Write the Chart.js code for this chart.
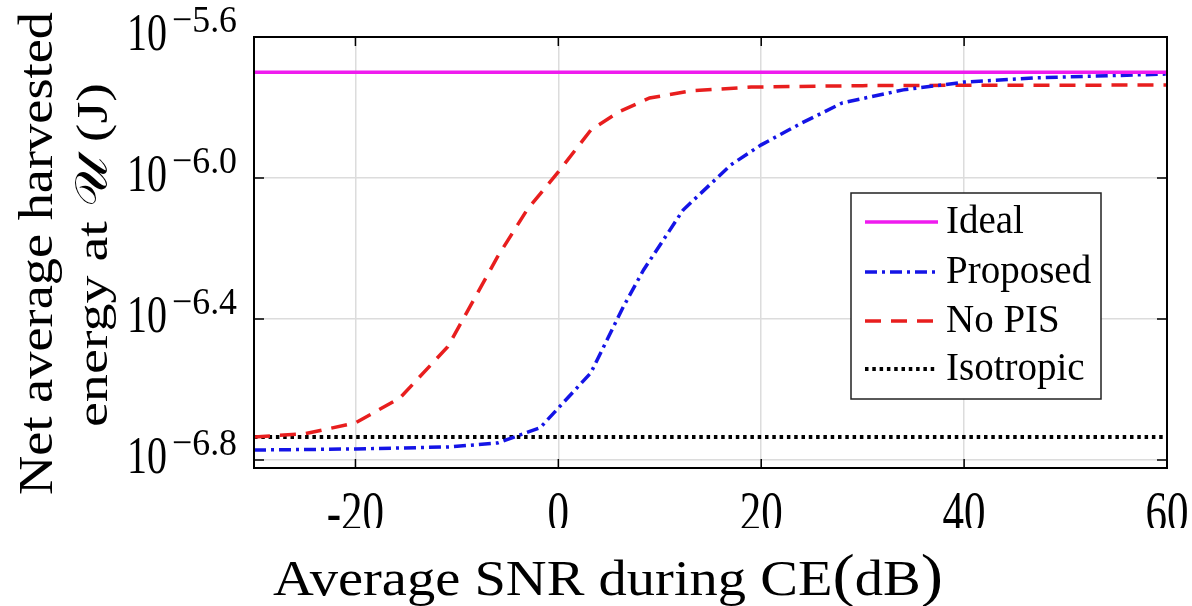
<!DOCTYPE html>
<html>
<head>
<meta charset="utf-8">
<script src="https://cdn.jsdelivr.net/npm/chart.js@4.4.0/dist/chart.umd.min.js"></script>
<style>
  html, body { margin: 0; padding: 0; background: #fff; }
  #wrap { width: 1192px; height: 606px; }
</style>
</head>
<body>
<div id="wrap"><canvas id="energyChart" width="1192" height="606"></canvas></div>
<script>
// values; y values are log10 of energy (J)
const snrIdeal = [-30, 60];
const idealExp = [-5.70, -5.70];

const snrProposed = [-30, -20, -10.6, -6, -1.8, 3.2, 6.4, 8.4, 12.3, 17, 20, 24, 28, 34, 40, 47, 53, 60];
const proposedExp = [-6.772, -6.769, -6.763, -6.752, -6.709, -6.553, -6.366, -6.261, -6.091, -5.963, -5.906, -5.844, -5.787, -5.750, -5.728, -5.716, -5.711, -5.705];

const snrNoPis = [-30, -25, -20, -15.6, -10.9, -6, -3.1, 0, 3.2, 6, 9, 13, 19, 30, 40, 50, 60];
const noPisExp = [-6.735, -6.726, -6.695, -6.624, -6.479, -6.224, -6.091, -5.983, -5.864, -5.812, -5.773, -5.753, -5.742, -5.738, -5.737, -5.737, -5.736];

const snrIsotropic = [-30, 60];
const isotropicExp = [-6.735, -6.735];

const xTickValues = [-20, 0, 20, 40, 60];
const yTickExps = [-5.6, -6.0, -6.4, -6.8];

const SERIF = '"Liberation Serif", "Times New Roman", serif';

function toPoints(xs, exps) {
    return xs.map((x, i) => ({ x: x, y: Math.pow(10, exps[i]) }));
}

// text drawn with a stretch so it matches the (squashed) figure
function drawStretched(ctx, text, px, x, y, sx, sy, align) {
    ctx.save();
    ctx.translate(x, y);
    ctx.scale(sx, sy);
    ctx.font = px + 'px ' + SERIF;
    ctx.textAlign = align || 'left';
    ctx.textBaseline = 'alphabetic';
    ctx.fillStyle = '#000';
    ctx.fillText(text, 0, 0);
    ctx.restore();
}

function textWidth(ctx, text, px) {
    ctx.save();
    ctx.font = px + 'px ' + SERIF;
    const w = ctx.measureText(text).width;
    ctx.restore();
    return w;
}

const paperPlugin = {
    id: 'paper',
    afterDatasetsDraw(chart) {
        const ctx = chart.ctx;
        const a = chart.chartArea;
        const xs = chart.scales.x, ys = chart.scales.y;

        // inward tick marks, matlab style
        ctx.save();
        ctx.strokeStyle = '#000';
        ctx.lineWidth = 1.5;
        ctx.beginPath();
        xTickValues.forEach(v => {
            const px = xs.getPixelForValue(v);
            ctx.moveTo(px, a.bottom); ctx.lineTo(px, a.bottom - 9);
            ctx.moveTo(px, a.top); ctx.lineTo(px, a.top + 9);
        });
        yTickExps.forEach(e => {
            const py = ys.getPixelForValue(Math.pow(10, e));
            ctx.moveTo(a.left, py); ctx.lineTo(a.left + 10, py);
            ctx.moveTo(a.right, py); ctx.lineTo(a.right - 10, py);
        });
        ctx.stroke();

        // axes box
        ctx.lineWidth = 2;
        ctx.strokeRect(a.left, a.top, a.right - a.left, a.bottom - a.top);
        ctx.restore();

        // legend inside the plot
        const box = { x: 851, y: 193, w: 250, h: 206 };
        ctx.save();
        ctx.fillStyle = '#fff';
        ctx.fillRect(box.x, box.y, box.w, box.h);
        ctx.strokeStyle = '#222';
        ctx.lineWidth = 1.5;
        ctx.strokeRect(box.x, box.y, box.w, box.h);
        const baselines = [233, 283, 332, 380];
        chart.data.datasets.forEach((ds, i) => {
            const ly = baselines[i] - 11;
            ctx.save();
            ctx.strokeStyle = ds.borderColor;
            ctx.lineWidth = ds.borderWidth;
            ctx.setLineDash(ds.borderDash || []);
            ctx.beginPath();
            ctx.moveTo(865, ly);
            ctx.lineTo(938, ly);
            ctx.stroke();
            ctx.restore();
            drawStretched(ctx, ds.label, 39, 946, baselines[i], 1, 1, 'left');
        });
        ctx.restore();
    },
    afterDraw(chart) {
        const ctx = chart.ctx;
        const xs = chart.scales.x, ys = chart.scales.y;

        // y tick labels 10^{e}
        yTickExps.forEach(e => {
            const py = ys.getPixelForValue(Math.pow(10, e));
            const w10 = textWidth(ctx, '10', 40);
            drawStretched(ctx, '10', 40, 127, py + 13, 40 / w10, 1.33, 'left');
            const expText = '\u2212' + e.toFixed(1).replace('-', '');
            const wE = textWidth(ctx, expText, 28);
            drawStretched(ctx, expText, 28, 172, py - 5, 65 / wE, 1.35, 'left');
        });

        // x tick labels (bottoms are cut in the figure)
        ctx.save();
        ctx.beginPath();
        ctx.rect(0, 470, chart.width, 58);
        ctx.clip();
        xTickValues.forEach(v => {
            drawStretched(ctx, String(v), 43, xs.getPixelForValue(v), 531, 1, 1.34, 'center');
        });
        ctx.restore();

        // x title with tall parentheses
        const segs = [
            { t: 'Average SNR during CE', px: 44 },
            { t: '(', px: 52 },
            { t: 'dB', px: 44 },
            { t: ')', px: 52 }
        ];
        let total = 0;
        segs.forEach(s => { s.w = textWidth(ctx, s.t, s.px); total += s.w; });
        const sxT = 670 / total;
        let cx = 273;
        segs.forEach(s => {
            drawStretched(ctx, s.t, s.px, cx, 595, sxT, 1.13, 'left');
            cx += s.w * sxT;
        });

        // y title, two rotated lines
        const yLines = [
            { t: 'Net average harvested', base: 52, mid: 253.5, len: 483, sy: 1.10 },
            { t: 'energy at \uD835\uDCB0 (J)', base: 107, mid: 255, len: 344, sy: 1.03 }
        ];
        yLines.forEach(l => {
            const w = textWidth(ctx, l.t, 44);
            ctx.save();
            ctx.translate(l.base, l.mid);
            ctx.rotate(-Math.PI / 2);
            drawStretched(ctx, l.t, 44, 0, 0, l.len / w, l.sy, 'center');
            ctx.restore();
        });
    }
};

const energyCtx = document.getElementById('energyChart');
new Chart(energyCtx, {
    type: 'line',
    data: {
        datasets: [
            {
                label: 'Ideal',
                data: toPoints(snrIdeal, idealExp),
                borderColor: '#ef1bef',
                borderWidth: 3.5
            },
            {
                label: 'Proposed',
                data: toPoints(snrProposed, proposedExp),
                borderColor: '#1414e6',
                borderWidth: 3.5,
                borderDash: [12, 5, 3, 5]
            },
            {
                label: 'No PIS',
                data: toPoints(snrNoPis, noPisExp),
                borderColor: '#e81e1e',
                borderWidth: 3.5,
                borderDash: [16, 10]
            },
            {
                label: 'Isotropic',
                data: toPoints(snrIsotropic, isotropicExp),
                borderColor: '#000',
                borderWidth: 4,
                borderDash: [3.5, 3.8]
            }
        ]
    },
    options: {
        responsive: false,
        animation: false,
        layout: { padding: { left: 0, top: 37, right: 25, bottom: 0 } },
        elements: {
            point: { radius: 0 },
            line: { tension: 0, borderCapStyle: 'butt', fill: false }
        },
        scales: {
            x: {
                type: 'linear',
                min: -30,
                max: 60,
                afterBuildTicks: scale => { scale.ticks = xTickValues.map(v => ({ value: v })); },
                afterFit: scale => { scale.height = 138; },
                ticks: { display: false },
                border: { display: false },
                grid: { color: '#dcdcdc', lineWidth: 1.5, drawTicks: false }
            },
            y: {
                type: 'logarithmic',
                min: Math.pow(10, -6.823),
                max: Math.pow(10, -5.6),
                afterBuildTicks: scale => { scale.ticks = yTickExps.map(e => ({ value: Math.pow(10, e) })); },
                afterFit: scale => { scale.width = 254; },
                ticks: { display: false },
                border: { display: false },
                grid: { color: '#dcdcdc', lineWidth: 1.5, drawTicks: false }
            }
        },
        plugins: {
            legend: { display: false },
            tooltip: { enabled: false }
        }
    },
    plugins: [paperPlugin]
});
</script>
</body>
</html>
